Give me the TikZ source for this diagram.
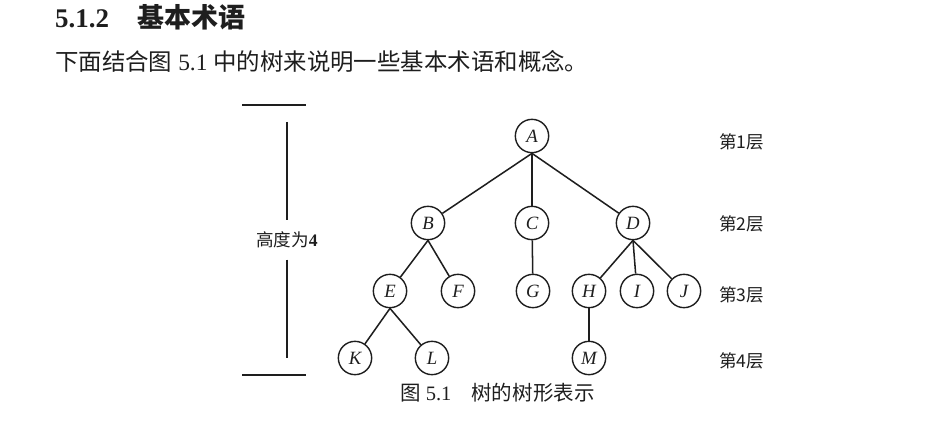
\documentclass[tikz,border=0pt]{standalone}
\usepackage{fontspec}
\setmainfont{Liberation Serif}
\newfontfamily\cjk{Noto Sans CJK SC}
\usepackage{tikz}
\usetikzlibrary{positioning}
\definecolor{ink}{HTML}{1E1E1E}

\begin{document}
\begin{tikzpicture}[x=0.03cm, y=-0.03cm, ink,
    treenode/.style={draw, circle, line width=1.2pt, minimum size=1.0cm,
        inner sep=0pt, font=\fontsize{16}{16}\selectfont\itshape},
    layerlabel/.style={anchor=west, font=\fontsize{15}{15}\selectfont\cjk},
    link/.style={line width=1.3pt}]
    \useasboundingbox (0,0) rectangle (940,423);
    % heading and text
    \node[anchor=west, inner sep=0pt] (title) at (55,17)
        {\fontsize{23}{23}\selectfont\bfseries 5.1.2\hspace{0.85cm}{\cjk 基本术语}};
    \node[anchor=west, inner sep=0pt] (intro) at (55,61)
        {\fontsize{20}{20}\selectfont{\cjk 下面结合图} 5.1 {\cjk 中的树来说明一些基本术语和概念。}};
    % the tree
    \node[treenode] (A) at (532,136) {A};
    \node[treenode] (B) at (428,223) {B};
    \node[treenode] (C) at (532,223) {C};
    \node[treenode] (D) at (633,223) {D};
    \node[treenode] (E) at (390,291) {E};
    \node[treenode] (F) at (458,291) {F};
    \node[treenode] (G) at (533,291) {G};
    \node[treenode] (H) at (589,291) {H};
    \node[treenode] (I) at (637,291) {I};
    \node[treenode] (J) at (684,291) {J};
    \node[treenode] (K) at (355,358) {K};
    \node[treenode] (L) at (432,358) {L};
    \node[treenode] (M) at (589,358) {M};
    \foreach \kid in {B,C,D} \draw[link] (A.south) -- (\kid);
    \foreach \kid in {E,F} \draw[link] (B.south) -- (\kid);
    \foreach \kid in {H,I,J} \draw[link] (D.south) -- (\kid);
    \foreach \kid in {K,L} \draw[link] (E.south) -- (\kid);
    \draw[link] (C) -- (G);
    \draw[link] (H) -- (M);
    % levels
    \node[layerlabel] (lv1) at (715,142) {第1层};
    \node[layerlabel] (lv2) at (715,224) {第2层};
    \node[layerlabel] (lv3) at (715,295) {第3层};
    \node[layerlabel] (lv4) at (715,361) {第4层};
    % height bar
    \node[inner xsep=0pt, inner ysep=0.34cm, font=\fontsize{15}{15}\selectfont] (height)
        at (287,240) {{\cjk 高度为}\textbf{4}};
    \coordinate (htop) at (287,122);
    \coordinate (hbot) at (287,358);
    \draw[link] (htop) -- (height);
    \draw[link] (height) -- (hbot);
    \draw[link] (242,105) -- (306,105);
    \draw[link] (242,375) -- (306,375);
    % caption
    \node[anchor=west, inner sep=0pt, font=\fontsize{17.5}{18}\selectfont] (caption) at (400,393)
        {{\cjk 图} 5.1\hspace{0.6cm}{\cjk 树的树形表示}};
\end{tikzpicture}
\end{document}
